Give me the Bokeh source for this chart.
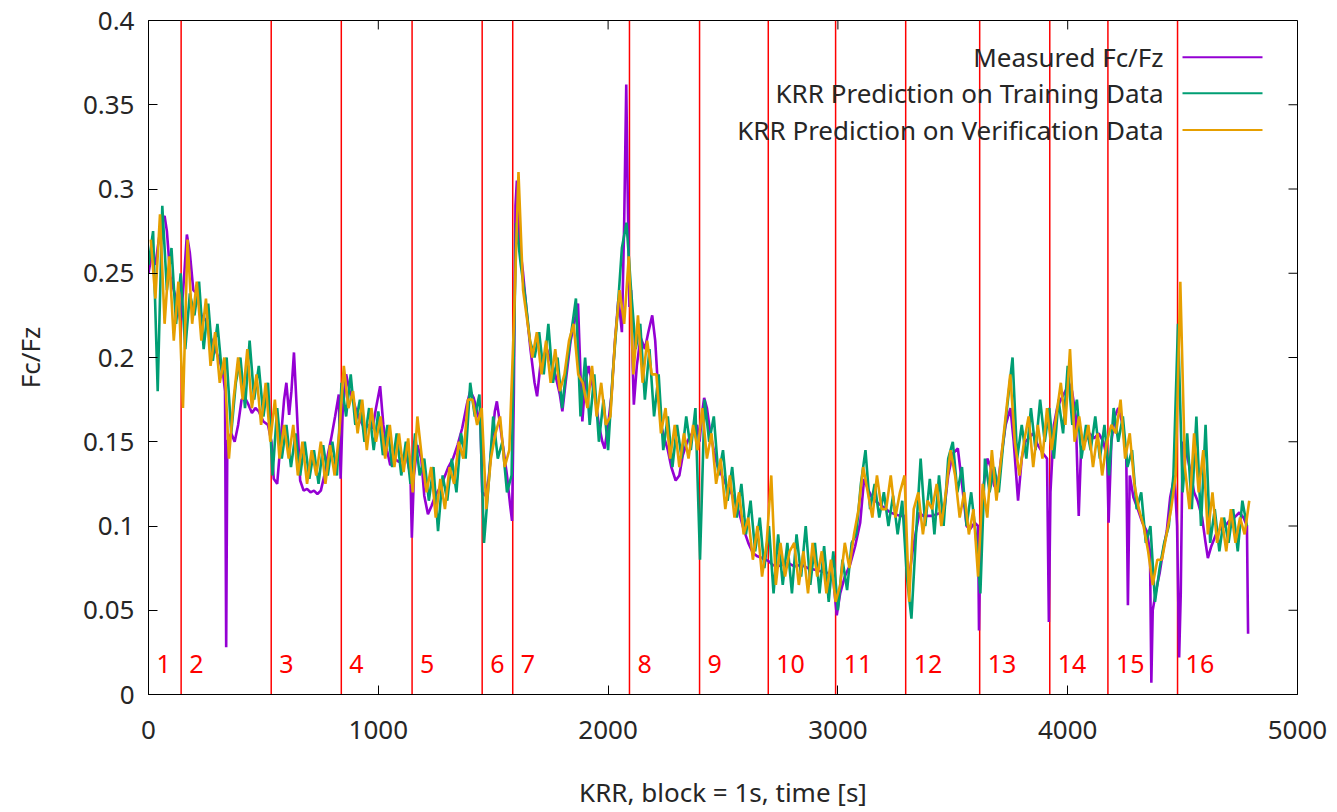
import numpy as np
from bokeh.plotting import figure
from bokeh.models import Range1d, FixedTicker
from bokeh.embed import file_html
from bokeh.resources import INLINE
from bokeh.core.properties import value

# ---------------- data ----------------
measured_t = [
    0, 15, 30, 45, 60, 70, 80, 95, 110, 125,
    138, 150, 167, 180, 195, 210, 230, 250, 270, 290,
    310, 325, 333, 338, 343, 360, 375, 390, 405, 420,
    435, 450, 465, 480, 500, 520, 535, 545, 560, 575,
    590, 600, 612, 622, 633, 645, 660, 675, 690, 705,
    720, 735, 750, 765, 780, 795, 812, 828, 836, 845,
    860, 875, 890, 905, 920, 940, 960, 975, 990, 1008,
    1022, 1038, 1052, 1070, 1090, 1110, 1125, 1140, 1146, 1155,
    1170, 1187, 1200, 1216, 1232, 1248, 1265, 1285, 1305, 1325,
    1345, 1365, 1385, 1400, 1415, 1430, 1445, 1452, 1465, 1480,
    1495, 1507, 1516, 1530, 1545, 1560, 1574, 1582, 1590, 1597,
    1603, 1615, 1630, 1645, 1662, 1680, 1691, 1705, 1720, 1734,
    1750, 1770, 1790, 1801, 1815, 1837, 1855, 1869, 1880, 1888,
    1900, 1915, 1930, 1945, 1960, 1975, 1985, 2000, 2015, 2030,
    2045, 2060, 2070, 2079, 2085, 2093, 2100, 2106, 2112, 2125,
    2141, 2160, 2175, 2192, 2205, 2218, 2230, 2245, 2260, 2275,
    2294, 2310, 2325, 2344, 2365, 2387, 2398, 2410, 2418, 2430,
    2445, 2460, 2475, 2495, 2515, 2535, 2550, 2570, 2590, 2610,
    2630, 2650, 2670, 2685, 2700, 2715, 2735, 2760, 2785, 2810,
    2840, 2870, 2900, 2930, 2960, 2980, 2995, 3010, 3030, 3053,
    3075, 3097, 3114, 3130, 3148, 3170, 3190, 3210, 3228, 3250,
    3270, 3290, 3300, 3310, 3325, 3340, 3355, 3370, 3390, 3410,
    3430, 3450, 3465, 3480, 3500, 3522, 3540, 3560, 3575, 3595,
    3610, 3614, 3620, 3635, 3650, 3665, 3680, 3693, 3710, 3730,
    3751, 3765, 3784, 3800, 3815, 3830, 3849, 3870, 3893, 3910,
    3918, 3925, 3940, 3954, 3970, 3990, 4005, 4019, 4035, 4048,
    4058, 4075, 4095, 4115, 4135, 4155, 4172, 4178, 4190, 4205,
    4220, 4240, 4255, 4262, 4270, 4286, 4305, 4325, 4344, 4358,
    4364, 4370, 4385, 4400, 4415, 4431, 4446, 4465, 4476, 4485,
    4492, 4500, 4515, 4530, 4550, 4565, 4585, 4600, 4610, 4625,
    4645, 4667, 4685, 4703, 4725, 4747, 4765, 4780, 4785,
]
measured_v = [
    0.250, 0.262, 0.255, 0.270, 0.282, 0.284, 0.275, 0.248, 0.240, 0.232,
    0.222, 0.238, 0.273, 0.262, 0.240, 0.238, 0.225, 0.222, 0.212, 0.205,
    0.198, 0.190, 0.180, 0.028, 0.150, 0.155, 0.150, 0.160, 0.175, 0.176,
    0.172, 0.167, 0.170, 0.168, 0.162, 0.160, 0.150, 0.128, 0.125, 0.150,
    0.175, 0.185, 0.166, 0.180, 0.203, 0.170, 0.127, 0.121, 0.122, 0.120,
    0.121, 0.119, 0.121, 0.130, 0.142, 0.152, 0.165, 0.178, 0.128, 0.168,
    0.190, 0.180, 0.175, 0.168, 0.163, 0.158, 0.160, 0.158, 0.170, 0.183,
    0.160, 0.145, 0.136, 0.140, 0.138, 0.142, 0.140, 0.130, 0.093, 0.130,
    0.148, 0.140, 0.118, 0.107, 0.112, 0.118, 0.122, 0.128, 0.135, 0.140,
    0.148, 0.158, 0.172, 0.180, 0.176, 0.168, 0.160, 0.120, 0.118, 0.128,
    0.150, 0.168, 0.174, 0.160, 0.145, 0.130, 0.112, 0.103, 0.180, 0.290,
    0.305, 0.268, 0.250, 0.228, 0.205, 0.185, 0.177, 0.195, 0.200, 0.205,
    0.198, 0.190, 0.178, 0.168, 0.185, 0.210, 0.222, 0.232, 0.190, 0.162,
    0.185, 0.195, 0.185, 0.175, 0.160, 0.150, 0.146, 0.160, 0.178, 0.210,
    0.235, 0.215, 0.280, 0.362, 0.300, 0.230, 0.240, 0.200, 0.172, 0.195,
    0.212, 0.205, 0.215, 0.225, 0.210, 0.180, 0.160, 0.152, 0.145, 0.135,
    0.127, 0.130, 0.142, 0.150, 0.155, 0.160, 0.150, 0.168, 0.176, 0.170,
    0.155, 0.145, 0.136, 0.130, 0.124, 0.120, 0.116, 0.108, 0.098, 0.090,
    0.084, 0.082, 0.081, 0.080, 0.079, 0.077, 0.076, 0.077, 0.078, 0.076,
    0.077, 0.075, 0.074, 0.073, 0.072, 0.068, 0.047, 0.060, 0.070, 0.077,
    0.088, 0.102, 0.128, 0.122, 0.117, 0.114, 0.112, 0.110, 0.108, 0.107,
    0.106, 0.106, 0.078, 0.070, 0.085, 0.097, 0.108, 0.106, 0.106, 0.106,
    0.107, 0.108, 0.112, 0.130, 0.143, 0.146, 0.125, 0.100, 0.098, 0.102,
    0.100, 0.038, 0.090, 0.125, 0.140, 0.135, 0.124, 0.121, 0.140, 0.160,
    0.170, 0.150, 0.115, 0.140, 0.150, 0.152, 0.155, 0.148, 0.143, 0.140,
    0.043, 0.120, 0.160, 0.170, 0.175, 0.180, 0.185, 0.180, 0.165, 0.106,
    0.145, 0.150, 0.155, 0.152, 0.155, 0.150, 0.140, 0.102, 0.150, 0.165,
    0.170, 0.160, 0.140, 0.053, 0.130, 0.117, 0.110, 0.102, 0.097, 0.085,
    0.007, 0.050, 0.062, 0.072, 0.085, 0.097, 0.117, 0.130, 0.100, 0.022,
    0.060, 0.150, 0.145, 0.135, 0.120, 0.115, 0.105, 0.090, 0.081, 0.088,
    0.095, 0.099, 0.100, 0.103, 0.105, 0.108, 0.105, 0.100, 0.036,
]

# KRR predictions sampled every 20 s (training) and offset by 10 s (verification)
train_t = list(range(0, 4800, 20))
train_v = [
    0.255, 0.275, 0.180, 0.290, 0.240, 0.265, 0.220, 0.250, 0.205, 0.238,
    0.225, 0.245, 0.205, 0.232, 0.198, 0.220, 0.190, 0.200, 0.155, 0.185,
    0.200, 0.170, 0.210, 0.175, 0.195, 0.165, 0.185, 0.130, 0.170, 0.140,
    0.160, 0.135, 0.155, 0.130, 0.150, 0.128, 0.145, 0.125, 0.148, 0.130,
    0.150, 0.130, 0.185, 0.165, 0.190, 0.160, 0.175, 0.150, 0.170, 0.145,
    0.168, 0.142, 0.160, 0.135, 0.155, 0.130, 0.150, 0.125, 0.155, 0.130,
    0.140, 0.115, 0.135, 0.097, 0.130, 0.115, 0.140, 0.120, 0.155, 0.140,
    0.185, 0.165, 0.178, 0.090, 0.125, 0.165, 0.140, 0.150, 0.120, 0.130,
    0.280, 0.255, 0.235, 0.210, 0.200, 0.215, 0.190, 0.220, 0.185, 0.200,
    0.170, 0.195, 0.215, 0.235, 0.165, 0.200, 0.160, 0.190, 0.150, 0.175,
    0.145, 0.190, 0.225, 0.265, 0.280, 0.240, 0.205, 0.220, 0.175, 0.205,
    0.165, 0.190, 0.145, 0.165, 0.135, 0.160, 0.140, 0.165, 0.145, 0.170,
    0.080, 0.175, 0.150, 0.165, 0.130, 0.145, 0.115, 0.135, 0.105, 0.125,
    0.095, 0.115, 0.085, 0.105, 0.075, 0.100, 0.060, 0.095, 0.065, 0.090,
    0.060, 0.095, 0.070, 0.100, 0.065, 0.090, 0.060, 0.088, 0.055, 0.085,
    0.050, 0.080, 0.062, 0.090, 0.095, 0.125, 0.145, 0.110, 0.125, 0.105,
    0.120, 0.100, 0.118, 0.095, 0.115, 0.070, 0.045, 0.095, 0.140, 0.100,
    0.128, 0.095, 0.130, 0.100, 0.140, 0.150, 0.120, 0.135, 0.100, 0.120,
    0.095, 0.060, 0.140, 0.120, 0.135, 0.120, 0.150, 0.175, 0.200, 0.140,
    0.160, 0.140, 0.170, 0.145, 0.175, 0.150, 0.170, 0.140, 0.175, 0.155,
    0.195, 0.160, 0.175, 0.140, 0.160, 0.145, 0.165, 0.140, 0.160, 0.130,
    0.170, 0.150, 0.165, 0.135, 0.145, 0.110, 0.120, 0.090, 0.100, 0.055,
    0.075, 0.090, 0.100, 0.130, 0.220, 0.120, 0.155, 0.110, 0.165, 0.100,
    0.160, 0.090, 0.110, 0.085, 0.105, 0.090, 0.110, 0.085, 0.115, 0.100,
]
verif_t = list(range(10, 4800, 20))
verif_v = [
    0.270, 0.235, 0.285, 0.220, 0.260, 0.210, 0.245, 0.170, 0.270, 0.220,
    0.245, 0.210, 0.235, 0.195, 0.215, 0.185, 0.200, 0.140, 0.175, 0.200,
    0.175, 0.205, 0.170, 0.190, 0.160, 0.185, 0.150, 0.175, 0.140, 0.160,
    0.140, 0.160, 0.130, 0.150, 0.125, 0.145, 0.130, 0.150, 0.125, 0.148,
    0.130, 0.155, 0.195, 0.170, 0.180, 0.155, 0.175, 0.145, 0.170, 0.150,
    0.165, 0.140, 0.160, 0.135, 0.155, 0.132, 0.152, 0.120, 0.165, 0.140,
    0.120, 0.135, 0.105, 0.128, 0.110, 0.135, 0.125, 0.150, 0.140, 0.175,
    0.175, 0.160, 0.170, 0.110, 0.140, 0.155, 0.165, 0.135, 0.145, 0.220,
    0.310, 0.240, 0.220, 0.200, 0.215, 0.190, 0.210, 0.185, 0.205, 0.180,
    0.190, 0.210, 0.220, 0.190, 0.185, 0.170, 0.195, 0.165, 0.185, 0.160,
    0.165, 0.210, 0.240, 0.220, 0.260, 0.190, 0.225, 0.185, 0.210, 0.190,
    0.190, 0.155, 0.170, 0.140, 0.160, 0.135, 0.155, 0.140, 0.160, 0.145,
    0.170, 0.140, 0.155, 0.125, 0.140, 0.110, 0.130, 0.105, 0.120, 0.095,
    0.105, 0.080, 0.100, 0.070, 0.090, 0.130, 0.065, 0.090, 0.070, 0.085,
    0.090, 0.065, 0.085, 0.060, 0.090, 0.070, 0.085, 0.060, 0.080, 0.055,
    0.065, 0.090, 0.075, 0.095, 0.110, 0.135, 0.120, 0.105, 0.130, 0.110,
    0.110, 0.130, 0.105, 0.120, 0.130, 0.055, 0.110, 0.120, 0.095, 0.115,
    0.110, 0.125, 0.100, 0.120, 0.145, 0.130, 0.105, 0.120, 0.095, 0.110,
    0.070, 0.125, 0.105, 0.145, 0.115, 0.140, 0.165, 0.190, 0.150, 0.130,
    0.150, 0.165, 0.135, 0.160, 0.140, 0.170, 0.145, 0.165, 0.185, 0.160,
    0.205, 0.150, 0.165, 0.145, 0.160, 0.135, 0.155, 0.130, 0.150, 0.160,
    0.155, 0.175, 0.140, 0.155, 0.125, 0.110, 0.100, 0.085, 0.065, 0.080,
    0.080, 0.095, 0.110, 0.130, 0.245, 0.135, 0.110, 0.155, 0.120, 0.145,
    0.095, 0.120, 0.090, 0.105, 0.085, 0.110, 0.090, 0.105, 0.095, 0.115,
]

block_bounds = [142, 534, 839, 1147, 1452, 1585, 2093, 2398, 2697, 2990,
                3295, 3617, 3922, 4175, 4478]
block_labels = [str(i) for i in range(1, 17)]

series_names = ["Measured Fc/Fz", "KRR Prediction on Training Data",
                "KRR Prediction on Verification Data"]
series_colors = ["#9400d3", "#009e73", "#e69f00"]

x_ticks = [0, 1000, 2000, 3000, 4000, 5000]
y_ticks = [0, 0.05, 0.1, 0.15, 0.2, 0.25, 0.3, 0.35, 0.4]
y_tick_text = ["0", "0.05", "0.1", "0.15", "0.2", "0.25", "0.3", "0.35", "0.4"]

# ---------------- figure ----------------
FONT = "Noto Sans"
TXT = "#262626"
FS = "26px"

X0, X1, Y0, Y1 = 0, 5000, 0, 0.4
FRAME_W, FRAME_H = 1149.0, 677.0
ppx = (X1 - X0) / FRAME_W
ppy = (Y1 - Y0) / FRAME_H
TICK = 9

p = figure(width=1337, height=812, x_range=Range1d(X0, X1), y_range=Range1d(Y0, Y1),
           output_backend="svg", toolbar_location=None,
           min_border_left=148, min_border_right=40, min_border_top=20,
           min_border_bottom=115)
p.background_fill_color = "white"
p.border_fill_color = "white"
p.outline_line_color = "black"
p.outline_line_width = 1
p.grid.visible = False

for ax in (p.xaxis[0], p.yaxis[0]):
    ax.major_tick_in = TICK
    ax.major_tick_out = 0
    ax.minor_tick_line_color = None
    ax.axis_line_color = "black"
    ax.major_tick_line_color = "black"
    ax.major_label_text_font = FONT
    ax.major_label_text_font_size = FS
    ax.major_label_text_color = TXT
    ax.axis_label_text_font = FONT
    ax.axis_label_text_font_size = FS
    ax.axis_label_text_color = TXT
    ax.axis_label_text_font_style = "normal"

p.xaxis[0].ticker = FixedTicker(ticks=x_ticks)
p.yaxis[0].ticker = FixedTicker(ticks=y_ticks)
p.yaxis[0].major_label_overrides = {t: s for t, s in zip(y_ticks, y_tick_text)}
p.xaxis[0].axis_label = "KRR, block = 1s, time [s]"
p.yaxis[0].axis_label = "Fc/Fz"
p.xaxis[0].major_label_standoff = 26
p.xaxis[0].axis_label_standoff = 32
p.yaxis[0].major_label_standoff = 14
p.yaxis[0].axis_label_standoff = 32

# mirror ticks on the right and top frame edges (gnuplot style)
p.segment(x0=[X1 - TICK * ppx] * len(y_ticks), y0=y_ticks, x1=[X1] * len(y_ticks),
          y1=y_ticks, line_color="black", line_width=1)
p.segment(x0=x_ticks, y0=[Y1 - TICK * ppy] * len(x_ticks), x1=x_ticks,
          y1=[Y1] * len(x_ticks), line_color="black", line_width=1)

# block separators
p.segment(x0=block_bounds, y0=[Y0] * len(block_bounds), x1=block_bounds,
          y1=[Y1] * len(block_bounds), line_color="red", line_width=1.5)

# data
p.line(measured_t, measured_v, line_color=series_colors[0], line_width=2.6)
n = min(len(train_t), len(train_v))
p.line(train_t[:n], train_v[:n], line_color=series_colors[1], line_width=2.6)
n = min(len(verif_t), len(verif_v))
p.line(verif_t[:n], verif_v[:n], line_color=series_colors[2], line_width=2.6)

# block numbers
starts = [X0] + block_bounds
p.text(x=[s + 35 for s in starts], y=[0.018] * len(starts), text=block_labels,
       text_color="red", text_font=value(FONT), text_font_size="25px",
       text_align="left", text_baseline="middle")

# gnuplot-like legend (text right aligned, sample on the right)
leg_y = [Y1 - (57 - 20) * ppy, Y1 - (93 - 20) * ppy, Y1 - (130 - 20) * ppy]
text_right = X0 + (1163 - 148) * ppx
line_x0 = X0 + (1182 - 148) * ppx
line_x1 = X0 + (1262 - 148) * ppx
p.text(x=[text_right] * 3, y=leg_y, text=series_names, text_color=TXT,
       text_font=value(FONT), text_font_size=FS, text_align="right",
       text_baseline="middle")
p.segment(x0=[line_x0] * 3, y0=leg_y, x1=[line_x1] * 3, y1=leg_y,
          line_color=series_colors, line_width=2)

open("out.html", "w").write(file_html(p, INLINE))
